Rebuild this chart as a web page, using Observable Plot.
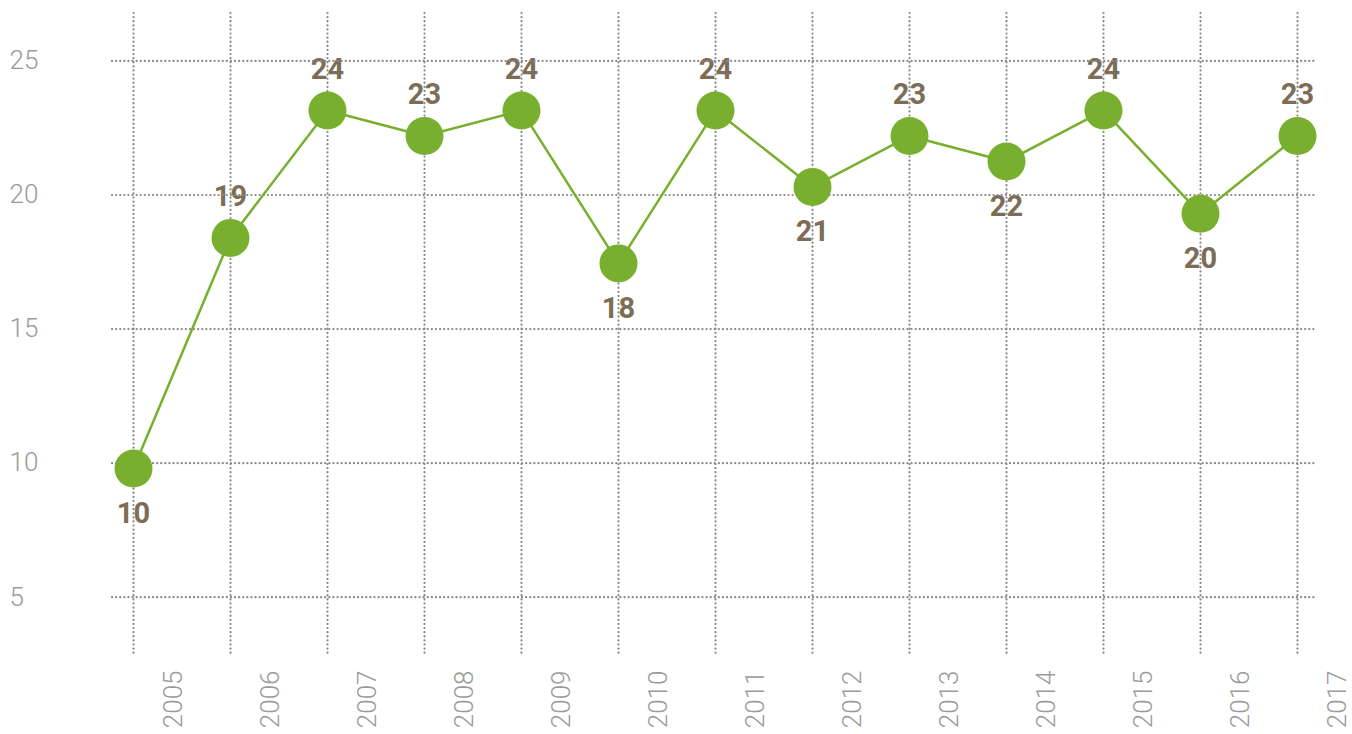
<!DOCTYPE html>
<html>
<head>
<meta charset="utf-8">
<script src="https://cdn.jsdelivr.net/npm/d3@7"></script>
<script src="https://cdn.jsdelivr.net/npm/@observablehq/plot@0.6"></script>
<style>
  html, body { margin: 0; padding: 0; background: #ffffff; }
  #chart svg { display: block; }
</style>
</head>
<body>
<div id="chart"></div>
<script>
const years = [2005, 2006, 2007, 2008, 2009, 2010, 2011, 2012, 2013, 2014, 2015, 2016, 2017];
const values = [9.8, 18.4, 23.15, 22.2, 23.15, 17.45, 23.15, 20.3, 22.2, 21.25, 23.15, 19.3, 22.2];
const labels = ["10", "19", "24", "23", "24", "18", "24", "21", "23", "22", "24", "20", "23"];
const labelSide = ["below", "above", "above", "above", "above", "below", "above", "below", "above", "below", "above", "below", "above"];
const yTicks = [5, 10, 15, 20, 25];

const data = years.map((year, i) => ({year, value: values[i], label: labels[i], side: labelSide[i]}));

const green = "#78af2e";
const brown = "#7c6d57";
const gridColor = "#888888";
const axisColor = "#9a9a9a";
const font = "Roboto, 'Liberation Sans', sans-serif";

const chart = Plot.plot({
  width: 1352,
  height: 734,
  marginLeft: 112,
  marginRight: 35,
  marginTop: 13,
  marginBottom: 81,
  style: {fontFamily: font, background: "#ffffff"},
  x: {type: "point", domain: years, padding: 0, round: false, insetLeft: 21, insetRight: 20},
  y: {domain: [2.9, 26.77]},
  marks: [
    Plot.text(data.filter(d => d.side === "above"), {
      x: "year", y: "value", text: "label", dy: -41,
      fill: brown, fontSize: 29, fontWeight: 700, fontFamily: font
    }),
    Plot.text(data.filter(d => d.side === "below"), {
      x: "year", y: "value", text: "label", dy: 45,
      fill: brown, fontSize: 29, fontWeight: 700, fontFamily: font
    }),
    Plot.gridY(yTicks, {stroke: gridColor, strokeOpacity: 1, strokeWidth: 2.2, strokeDasharray: "0.1,4", strokeLinecap: "round"}),
    Plot.gridX(years, {stroke: gridColor, strokeOpacity: 1, strokeWidth: 2.2, strokeDasharray: "0.1,4", strokeLinecap: "round"}),
    Plot.axisY(yTicks, {
      anchor: "left", tickSize: 0, tickPadding: 0, textAnchor: "start", dx: -103,
      fontSize: 26, fontWeight: 300, fill: axisColor, label: null
    }),
    Plot.axisX(years, {
      anchor: "bottom", tickSize: 0, tickPadding: 17, tickRotate: -90, dx: 40,
      fontSize: 26, fontWeight: 300, fill: axisColor, label: null, tickFormat: d => String(d)
    }),
    Plot.line(data, {x: "year", y: "value", stroke: green, strokeWidth: 2.5}),
    Plot.dot(data, {x: "year", y: "value", r: 19, fill: green, stroke: "none"})
  ]
});
document.getElementById("chart").appendChild(chart);
</script>
</body>
</html>
